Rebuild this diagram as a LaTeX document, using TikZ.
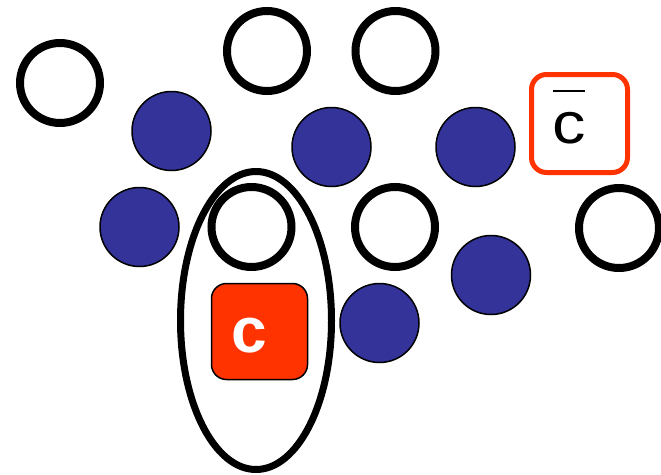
\documentclass[tikz,border=0pt]{standalone}
\usepackage{fontspec}
\setmainfont{Liberation Sans}
\usetikzlibrary{shapes.geometric}
\definecolor{dotblue}{HTML}{333399}
\definecolor{boxred}{HTML}{FF3300}
\tikzset{
  opencirc/.style={circle, draw=black, line width=8pt, minimum size=80pt, inner sep=0pt},
  bluecirc/.style={circle, draw=black, fill=dotblue, line width=1.5pt, minimum size=79pt, inner sep=0pt},
  redbox/.style={rectangle, rounded corners=15pt, draw=black, fill=boxred, line width=1.5pt, minimum width=96pt, minimum height=96pt, inner sep=0pt},
  outbox/.style={rectangle, rounded corners=15pt, draw=boxred, line width=5pt, minimum width=96pt, minimum height=98pt, inner sep=0pt},
  bigellipse/.style={ellipse, draw=black, line width=7pt, minimum width=151pt, minimum height=298pt, inner sep=0pt},
}
\begin{document}
\begin{tikzpicture}[x=1pt,y=-1pt]
\useasboundingbox (0,0) rectangle (661,474);
\fill[white] (0,0) rectangle (661,474);
% open circles
\node[opencirc] (o1) at (60,83) {};
\node[opencirc] (o2) at (267,51) {};
\node[opencirc] (o3) at (395.5,51) {};
\node[opencirc] (o4) at (251.5,227) {};
\node[opencirc] (o5) at (395,227) {};
\node[opencirc] (o6) at (619,228) {};
% blue circles
\node[bluecirc] (b1) at (171.5,131) {};
\node[bluecirc] (b2) at (331.5,147) {};
\node[bluecirc] (b3) at (475.5,147) {};
\node[bluecirc] (b4) at (139.5,227) {};
\node[bluecirc] (b5) at (491,275) {};
\node[bluecirc] (b6) at (379.5,323) {};
% ellipse
\node[bigellipse] (ell) at (256,320.5) {};
% red box with c
\node[redbox] (cbox) at (259.5,331.5) {};
\node[text=white, font=\bfseries\fontsize{64}{64}\selectfont, inner sep=0pt, anchor=base] (ctext) at (249,352) {c};
% outlined box with c-bar
\node[outbox] (cbarbox) at (579.5,123.5) {};
\node[text=black, font=\fontsize{58}{58}\selectfont, inner sep=0pt, anchor=base, xscale=1.15] (cbartext) at (569.5,143) {c};
\coordinate (barL) at (553,91);
\coordinate (barR) at (585,91);
\draw[line width=2pt] (barL) -- (barR);
\end{tikzpicture}
\end{document}
